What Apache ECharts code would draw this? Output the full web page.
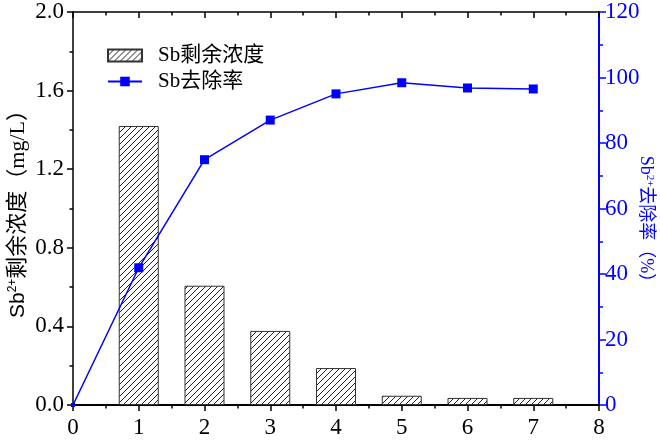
<!DOCTYPE html>
<html>
<head>
<meta charset="utf-8">
<script src="https://cdn.jsdelivr.net/npm/echarts@6/dist/echarts.min.js"></script>
<style>html,body{margin:0;padding:0;background:#fff;}#c{width:660px;height:445px;}</style>
</head>
<body>
<div id="c"></div>
<script>
const xPositions = [1, 2, 3, 4, 5, 6, 7];
const residual = [1.42, 0.607, 0.377, 0.188, 0.047, 0.036, 0.036];
const lineX = [0, 1, 2, 3, 4, 5, 6, 7];
const removal = [0, 41.9, 74.9, 87.0, 95.0, 98.4, 96.8, 96.5];
const seriesNames = ['Sb剩余浓度', 'Sb去除率'];

const FONT = '"Liberation Serif", "Noto Sans CJK SC", serif';
const SANS = '"Liberation Sans", "Noto Sans CJK SC", sans-serif';
const BLUE = '#0000ff';

function hatch() {
  const c = document.createElement('canvas');
  const s = 6;
  c.width = s; c.height = s;
  const g = c.getContext('2d');
  g.fillStyle = '#fff';
  g.fillRect(0, 0, s, s);
  g.strokeStyle = '#222';
  g.lineWidth = 1;
  g.beginPath();
  g.moveTo(0, s); g.lineTo(s, 0);
  g.moveTo(-s / 2, s / 2); g.lineTo(s / 2, -s / 2);
  g.moveTo(s / 2, s * 1.5); g.lineTo(s * 1.5, s / 2);
  g.stroke();
  return c;
}
const pattern = { image: hatch(), repeat: 'repeat' };

const chart = echarts.init(document.getElementById('c'));
const tickStyle = { color: '#000', width: 1.5 };
chart.setOption({
  animation: false,
  backgroundColor: '#fff',
  textStyle: { fontFamily: FONT },
  grid: { left: 73, right: 61, top: 12, bottom: 40, containLabel: false, outerBoundsMode: 'none' },
  legend: {
    orient: 'vertical',
    left: 102, top: 40,
    itemWidth: 34, itemHeight: 12, itemGap: 5,
    textStyle: { fontFamily: FONT, fontSize: 21, color: '#000', padding: [0, 0, 0, 11] },
    data: [{ name: seriesNames[0], icon: 'rect' }, { name: seriesNames[1] }]
  },
  xAxis: [{
    type: 'value', min: 0, max: 8, interval: 1,
    axisLine: { onZero: false, lineStyle: { color: '#000', width: 2 } },
    axisTick: { show: true, inside: false, length: 6, lineStyle: tickStyle },
    minorTick: { show: true, splitNumber: 2, length: 3.5, lineStyle: tickStyle },
    splitLine: { show: false },
    axisLabel: { fontFamily: FONT, fontSize: 23, color: '#000', margin: 11 }
  }, {
    type: 'value', min: 0, max: 8, interval: 1, position: 'top',
    axisLine: { show: true, onZero: false, lineStyle: { color: '#000', width: 1.5 } },
    axisTick: { show: true, inside: true, length: 6, lineStyle: tickStyle },
    minorTick: { show: true, splitNumber: 2, length: 3.5, lineStyle: tickStyle },
    splitLine: { show: false },
    axisLabel: { show: false }
  }],
  yAxis: [{
    type: 'value', min: 0, max: 2.0, interval: 0.4, position: 'left',
    axisLine: { show: true, onZero: false, lineStyle: { color: '#000', width: 1.5 } },
    axisTick: { show: true, inside: false, length: 6, lineStyle: tickStyle },
    minorTick: { show: true, splitNumber: 2, length: 3.5, lineStyle: tickStyle },
    splitLine: { show: false },
    axisLabel: { fontFamily: FONT, fontSize: 23, color: '#000', margin: 9,
      formatter: v => v.toFixed(1) },
    name: '{b|Sb}{s|2+}{a|剩余浓度（mg/L）}',
    nameLocation: 'middle', nameGap: 44, nameMoveOverlap: false,
    nameTextStyle: { rich: {
      a: { fontFamily: FONT, fontSize: 22, color: '#000' },
      b: { fontFamily: SANS, fontSize: 21, color: '#000' },
      s: { fontFamily: SANS, fontSize: 12, color: '#000', verticalAlign: 'top' }
    } }
  }, {
    type: 'value', min: 0, max: 120, interval: 20, position: 'right',
    axisLine: { show: true, onZero: false, lineStyle: { color: BLUE, width: 2 } },
    axisTick: { show: true, inside: false, length: 7, lineStyle: { color: BLUE, width: 1.5 } },
    minorTick: { show: true, splitNumber: 2, length: 4, lineStyle: { color: BLUE, width: 1.5 } },
    splitLine: { show: false },
    axisLabel: { fontFamily: FONT, fontSize: 23, color: BLUE, margin: 6 },
    name: '{a|Sb}{s|2+}{a|去除率（%）}',
    nameLocation: 'middle', nameGap: 38, nameRotate: -90, nameMoveOverlap: false,
    nameTextStyle: { padding: [0, 0, 0, 30], rich: {
      a: { fontFamily: FONT, fontSize: 18, color: BLUE },
      s: { fontFamily: FONT, fontSize: 11, color: BLUE, verticalAlign: 'top' }
    } }
  }],
  series: [{
    name: seriesNames[0],
    type: 'bar',
    xAxisIndex: 0, yAxisIndex: 0,
    barWidth: 40,
    data: xPositions.map((x, i) => [x, residual[i]]),
    itemStyle: { color: pattern, borderColor: '#333', borderWidth: 1 }
  }, {
    name: seriesNames[1],
    type: 'line',
    xAxisIndex: 0, yAxisIndex: 1,
    symbol: 'rect', symbolSize: 9,
    data: lineX.map((x, i) => i === 0 ? { value: [x, removal[i]], symbolSize: 4 } : [x, removal[i]]),
    lineStyle: { color: BLUE, width: 1.5 },
    itemStyle: { color: BLUE },
    z: 5
  }]
});
</script>
</body>
</html>
